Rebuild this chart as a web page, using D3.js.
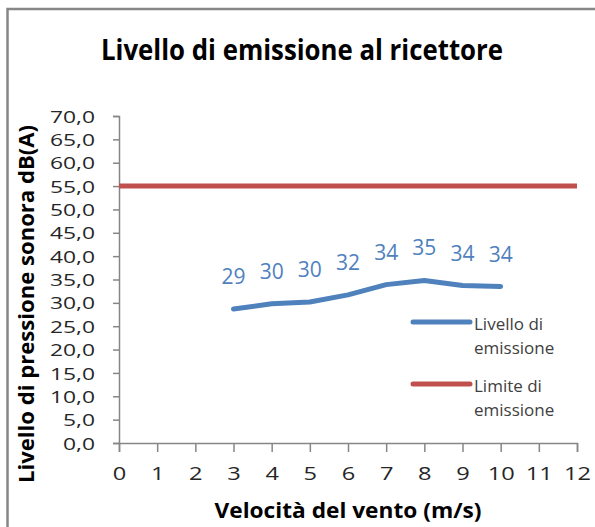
<!DOCTYPE html>
<html>
<head>
<meta charset="utf-8">
<script src="https://cdn.jsdelivr.net/npm/d3@7"></script>
<style>
  body { margin: 0; background: #fff; }
  svg { display: block; font-family: "Open Sans", sans-serif; }
</style>
</head>
<body>
<div id="chart"></div>
<script>
// dati
var velocita = [3, 4, 5, 6, 7, 8, 9, 10];
var livello = [28.7, 29.8, 30.2, 31.7, 33.9, 34.8, 33.7, 33.5];
var limite = 55;
var x_ticks = [0, 1, 2, 3, 4, 5, 6, 7, 8, 9, 10, 11, 12];
var y_ticks = [0, 5, 10, 15, 20, 25, 30, 35, 40, 45, 50, 55, 60, 65, 70];
var serie_nomi = [['Livello di', 'emissione'], ['Limite di', 'emissione']];
var serie_colori = ['#4F81BD', '#C0504D'];

var width = 595, height = 527;
var svg = d3.select('#chart').append('svg')
    .attr('width', width)
    .attr('height', height);

// cornice
svg.append('rect')
    .attr('x', 7.5).attr('y', 9)
    .attr('width', 620).attr('height', 560)
    .attr('fill', 'white')
    .attr('stroke', '#878787')
    .attr('stroke-width', 2.5);

var x = d3.scaleLinear().domain([0, 12]).range([119, 577]);
var y = d3.scaleLinear().domain([0, 70]).range([443, 116]);

// le cifre dei tick nel riferimento sono larghe: lunghezza fissa per carattere
function allarga(sel, cifra, virgola) {
    sel.each(function() {
        var t = d3.select(this).text();
        var w = 0;
        for (var c of t) w += (c === ',') ? virgola : cifra;
        d3.select(this)
            .attr('textLength', w)
            .attr('lengthAdjust', 'spacingAndGlyphs');
    });
}

// titolo
svg.append('text')
    .attr('x', 302).attr('y', 60)
    .attr('text-anchor', 'middle')
    .attr('textLength', 402).attr('lengthAdjust', 'spacingAndGlyphs')
    .style('font-size', '28px').style('font-weight', 'bold')
    .attr('fill', '#000')
    .text('Livello di emissione al ricettore');

// asse y
var yAxis = svg.append('g')
    .attr('transform', 'translate(' + x(0) + ',0)')
    .call(d3.axisLeft(y).tickValues(y_ticks).tickSize(6).tickPadding(18)
        .tickFormat(function(d) { return d3.format('.1f')(d).replace('.', ','); }));
yAxis.select('.domain').attr('stroke', '#868686').attr('stroke-width', 1.5);
yAxis.selectAll('.tick line').attr('stroke', '#868686').attr('stroke-width', 1.5);
yAxis.selectAll('.tick text')
    .attr('fill', '#262626')
    .attr('dy', '0.36em')
    .style('font-size', '17px')
    .style('font-family', '"Open Sans", sans-serif')
    .call(allarga, 13, 6);

// asse x
var xAxis = svg.append('g')
    .attr('transform', 'translate(0,' + y(0) + ')')
    .call(d3.axisBottom(x).tickValues(x_ticks).tickSize(9).tickPadding(15));
xAxis.select('.domain').attr('stroke', '#868686').attr('stroke-width', 1.5);
xAxis.selectAll('.tick line').attr('stroke', '#868686').attr('stroke-width', 1.5);
xAxis.selectAll('.tick text')
    .attr('fill', '#262626')
    .style('font-size', '18px')
    .style('font-family', '"Open Sans", sans-serif')
    .call(allarga, 13.5, 6);

// titoli assi
svg.append('text')
    .attr('transform', 'translate(348,518)')
    .attr('text-anchor', 'middle')
    .attr('textLength', 267).attr('lengthAdjust', 'spacingAndGlyphs')
    .style('font-size', '21px').style('font-weight', 'bold')
    .attr('fill', '#000')
    .text('Velocità del vento (m/s)');

svg.append('text')
    .attr('transform', 'translate(34,304) rotate(-90)')
    .attr('text-anchor', 'middle')
    .attr('textLength', 358).attr('lengthAdjust', 'spacingAndGlyphs')
    .style('font-size', '21px').style('font-weight', 'bold')
    .attr('fill', '#000')
    .text('Livello di pressione sonora dB(A)');

// linea limite
svg.append('line')
    .attr('x1', x(0)).attr('x2', x(12))
    .attr('y1', y(limite)).attr('y2', y(limite))
    .attr('stroke', serie_colori[1])
    .attr('stroke-width', 5);

// linea livello
var line = d3.line()
    .x(function(d, i) { return x(velocita[i]); })
    .y(function(d) { return y(d); });
svg.append('path')
    .datum(livello)
    .attr('d', line)
    .attr('fill', 'none')
    .attr('stroke', serie_colori[0])
    .attr('stroke-width', 5)
    .attr('stroke-linecap', 'round')
    .attr('stroke-linejoin', 'round');

// etichette valori
svg.selectAll('.lbl').data(livello)
    .enter().append('text')
    .attr('class', 'lbl')
    .attr('x', function(d, i) { return x(velocita[i]); })
    .attr('y', function(d) { return y(d) - 25; })
    .attr('text-anchor', 'middle')
    .style('font-size', '21px')
    .attr('fill', serie_colori[0])
    .text(function(d) { return d3.format('.0f')(d); });

// legenda
var legenda = svg.append('g');
var leg_y = [322, 384];
serie_nomi.forEach(function(nome, i) {
    legenda.append('line')
        .attr('x1', 413).attr('x2', 470)
        .attr('y1', leg_y[i]).attr('y2', leg_y[i])
        .attr('stroke', serie_colori[i])
        .attr('stroke-width', 5)
        .attr('stroke-linecap', 'round');
    legenda.append('text')
        .attr('x', 474).attr('y', leg_y[i] + 8)
        .style('font-size', '17px')
        .attr('fill', '#404040')
        .text(nome[0]);
    legenda.append('text')
        .attr('x', 474).attr('y', leg_y[i] + 32)
        .style('font-size', '17px')
        .attr('fill', '#404040')
        .text(nome[1]);
});
</script>
</body>
</html>
